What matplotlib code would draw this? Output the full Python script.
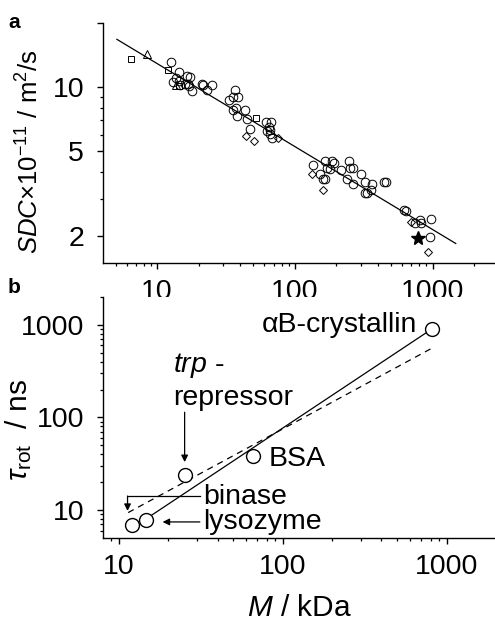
import numpy as np
import matplotlib
matplotlib.use("Agg")
import matplotlib.pyplot as plt
from matplotlib.ticker import FixedLocator, NullFormatter, FixedFormatter

plt.rcParams['font.family'] = ['Liberation Sans', 'DejaVu Sans']
plt.rcParams['mathtext.fontset'] = 'custom'
plt.rcParams['mathtext.rm'] = 'Liberation Sans'
plt.rcParams['mathtext.it'] = 'Liberation Sans:italic'
plt.rcParams['mathtext.bf'] = 'Liberation Sans:bold'

# ---------------- Panel a data ----------------
circ_M = [12.6, 14.4, 13.1, 13.8, 14.4, 16.4, 17.3, 15.9, 16.8, 17.8, 17.1, 14.6,
          21.6, 22.9, 24.9, 21.0, 33.4, 36.8, 38.9, 35.4, 35.4, 37.8, 37.2, 43.5,
          44.7, 46.8, 61.8, 66.9, 64.3, 66.1, 65.4, 68.0, 63.2, 135, 166, 186,
          191, 181, 153, 160, 166, 171, 246, 253, 264, 217, 239, 264, 302, 320,
          325, 334, 364, 357, 442, 460, 618, 636, 743, 808, 827, 966, 950]
circ_D = [13.1, 11.8, 10.6, 11.1, 10.7, 11.3, 11.2, 10.4, 10.4, 9.6, 10.1, 10.2,
          10.2, 9.7, 10.2, 10.3, 8.7, 9.7, 9.0, 9.0, 7.8, 7.3, 8.0, 7.8,
          7.1, 6.4, 6.9, 6.9, 6.5, 6.3, 6.05, 5.8, 6.2, 4.3, 4.5, 4.5,
          4.4, 4.15, 3.9, 3.7, 3.7, 4.2, 4.5, 4.2, 4.2, 4.1, 3.7, 3.5, 3.9, 3.6,
          3.2, 3.2, 3.5, 3.3, 3.6, 3.6, 2.65, 2.63, 2.32, 2.39, 2.31, 2.40, 1.99]
sq_M = [6.5, 11.9, 14.5, 52.2]
sq_D = [13.6, 12.1, 10.1, 7.2]
tri_M = [8.5, 13.8]
tri_D = [14.3, 10.2]
dia_M = [44.0, 50.6, 75.2, 133, 160, 700, 929]
dia_D = [5.9, 5.6, 5.8, 3.9, 3.3, 2.33, 1.69]
star_M = [781]
star_D = [1.97]
fit_a_range = [5.1, 1470]
fit_a_pref = 12.9   # SDC at M = 10 kDa
fit_a_exp = -0.389

# ---------------- Panel b data ----------------
prot_names = ['binase', 'lysozyme', 'trp-repressor', 'BSA', 'αB-crystallin']
prot_M = [12.1, 14.6, 25.3, 66.1, 809]
prot_tau = [6.95, 7.9, 23.9, 38.5, 912]
solid_range = [14.6, 800]
solid_pref = 8.0     # tau at M = 14.6
solid_exp = 1.176
dash_range = [11.4, 817]
dash_pref = 9.4      # tau at M = 11.4
dash_exp = 0.958

FS = 20.5
fig = plt.figure(figsize=(4.95, 6.21), dpi=100)
axa = fig.add_axes([0.208, 0.5765, 0.794, 0.3865])
axb = fig.add_axes([0.208, 0.1337, 0.794, 0.388])

for ax in (axa, axb):
    ax.set_xscale('log')
    ax.set_yscale('log')
    for s in ('top', 'right'):
        ax.spines[s].set_visible(False)
    for s in ('left', 'bottom'):
        ax.spines[s].set_linewidth(1.0)
    ax.tick_params(which='major', direction='out', length=4.5, width=1.0, labelsize=FS, pad=7)
    ax.tick_params(which='minor', direction='out', length=2.5, width=0.9)
    ax.tick_params(axis='y', which='major', pad=9)

# Panel a
mk = dict(linestyle='none', markerfacecolor='none', markeredgecolor='black', markeredgewidth=0.7)
xf = np.array(fit_a_range)
axa.plot(xf, fit_a_pref * (xf / 10.0) ** fit_a_exp, color='black', lw=0.9, zorder=2)
axa.plot(circ_M, circ_D, marker='o', markersize=6.2, **mk)
axa.plot(sq_M, sq_D, marker='s', markersize=4.6, **mk)
axa.plot(tri_M, tri_D, marker='^', markersize=5.8, **mk)
axa.plot(dia_M, dia_D, marker='D', markersize=4.3, **mk)
axa.plot(star_M, star_D, marker='*', markersize=10, color='black', linestyle='none')
axa.set_xlim(4.04, 2880)
axa.set_ylim(1.5, 20)
axa.xaxis.set_major_locator(FixedLocator([10, 100, 1000]))
axa.xaxis.set_major_formatter(FixedFormatter(['10', '100', '1000']))
axa.xaxis.set_minor_locator(FixedLocator([5, 6, 7, 8, 9, 20, 30, 40, 50, 60, 70, 80, 90,
                                          200, 300, 400, 500, 600, 700, 800, 900, 2000]))
axa.xaxis.set_minor_formatter(NullFormatter())
axa.yaxis.set_major_locator(FixedLocator([2, 5, 10, 20]))
axa.yaxis.set_major_formatter(FixedFormatter(['2', '5', '10', '']))
axa.yaxis.set_minor_locator(FixedLocator([3, 4, 6, 7, 8, 9]))
axa.yaxis.set_minor_formatter(NullFormatter())
axa.set_ylabel(r'$\mathit{SDC}$×10$^{-11}$ / m$^{2}$/s', fontsize=18.5)
axa.yaxis.set_label_coords(-0.15, 0.463)

# Panel b
xs = np.array(solid_range)
axb.plot(xs, solid_pref * (xs / solid_range[0]) ** solid_exp, color='black', lw=0.9, zorder=2)
xd = np.array(dash_range)
axb.plot(xd, dash_pref * (xd / dash_range[0]) ** dash_exp, color='black', lw=0.9,
         linestyle=(0, (5, 4)), zorder=2)
axb.plot(prot_M, prot_tau, marker='o', markersize=10, linestyle='none',
         markerfacecolor='white', markeredgecolor='black', markeredgewidth=1.0, zorder=3)
axb.set_xlim(8, 2000)
axb.set_ylim(5, 2000)
axb.xaxis.set_major_locator(FixedLocator([10, 100, 1000]))
axb.xaxis.set_major_formatter(FixedFormatter(['10', '100', '1000']))
axb.xaxis.set_minor_locator(FixedLocator([9, 20, 30, 40, 50, 60, 70, 80, 90,
                                          200, 300, 400, 500, 600, 700, 800, 900, 2000]))
axb.xaxis.set_minor_formatter(NullFormatter())
axb.yaxis.set_major_locator(FixedLocator([10, 100, 1000]))
axb.yaxis.set_major_formatter(FixedFormatter(['10', '100', '1000']))
axb.yaxis.set_minor_locator(FixedLocator([6, 7, 8, 9, 20, 30, 40, 50, 60, 70, 80, 90,
                                          200, 300, 400, 500, 600, 700, 800, 900, 2000]))
axb.yaxis.set_minor_formatter(NullFormatter())
axb.set_ylabel(r'$\tau_{\rm rot}$  / ns', fontsize=FS + 1)
axb.yaxis.set_label_coords(-0.176, 0.45)
axb.set_xlabel(r'$\mathit{M}$ / kDa', fontsize=FS + 1, labelpad=10)

# annotations
axb.text(665, 1000, 'αB-crystallin', fontsize=FS, ha='right', va='center')
axb.text(81.5, 35.6, 'BSA', fontsize=FS, ha='left', va='center')
axb.text(21.3, 367, r'$\mathit{trp}$ -', fontsize=FS, ha='left', va='center')
axb.text(21.3, 162, 'repressor', fontsize=FS, ha='left', va='center')
axb.text(32.5, 13.8, 'binase', fontsize=FS, ha='left', va='center')
axb.text(32.5, 7.45, 'lysozyme', fontsize=FS, ha='left', va='center')
arrow = dict(arrowstyle='-|>', color='black', lw=0.9, mutation_scale=10, shrinkA=0, shrinkB=0)
axb.annotate('', xy=(25.2, 33), xytext=(25.2, 114), arrowprops=arrow)
axb.plot([31.2, 11.3], [14.2, 14.2], color='black', lw=0.9)
axb.annotate('', xy=(11.3, 9.8), xytext=(11.3, 14.2), arrowprops=arrow)
axb.annotate('', xy=(18.5, 7.45), xytext=(31.2, 7.45), arrowprops=arrow)

fig.text(0.016, 0.963, 'a', fontsize=15, fontweight='bold', ha='left', va='center')
fig.text(0.016, 0.537, 'b', fontsize=15, fontweight='bold', ha='left', va='center')

fig.savefig('out.png', dpi=100)
